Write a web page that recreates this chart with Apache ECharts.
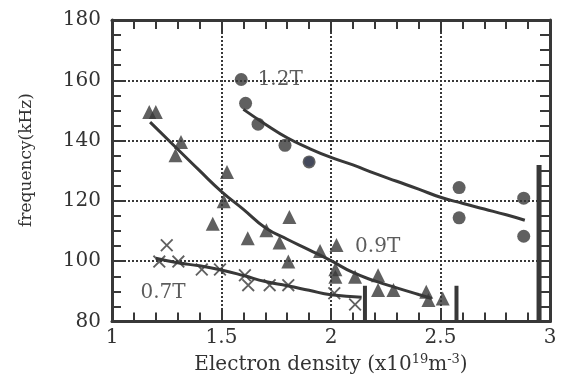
<!DOCTYPE html>
<html>
<head>
<meta charset="utf-8">
<script src="https://cdn.jsdelivr.net/npm/echarts@6/dist/echarts.min.js"></script>
<style>
  html, body { margin: 0; padding: 0; background: #fff; }
  .layer { width: 570px; height: 380px; position: absolute; left: 0; top: 0; }
</style>
</head>
<body>
<div id="frame" class="layer"></div>
<div id="marks" class="layer"></div>
<script>
// measured points, electron density (x10^19 m^-3) vs frequency (kHz)
const pts12T = [[1.59, 160.3], [1.61, 152.4], [1.667, 145.5], [1.79, 138.5], [1.90, 133], [2.585, 124.5], [2.585, 114.5], [2.88, 121], [2.88, 108.4]];
const pts09T = [[1.17, 149.5], [1.2, 149.5], [1.29, 135.2], [1.315, 139.6], [1.46, 112.5], [1.51, 120], [1.525, 129.7],
  [1.62, 107.7], [1.705, 110.4], [1.765, 106.3], [1.805, 100], [1.81, 114.8], [1.95, 103.5], [2.025, 105.5],
  [2.02, 97.5], [2.02, 95], [2.11, 95], [2.215, 95.5], [2.215, 90.6], [2.285, 90.6], [2.435, 90], [2.445, 87.3], [2.51, 87.8]];
const pts07T = [[1.216, 100], [1.25, 105.4], [1.303, 100], [1.41, 97.4], [1.493, 97.4], [1.607, 95.5], [1.622, 92.2],
  [1.72, 92.2], [1.805, 92.2], [2.015, 89.5], [2.11, 85.8]];

// fitted curves
const fit12T = [[1.6, 150.4], [1.7, 145.5], [1.8, 141], [1.9, 137.5], [2.0, 134.5], [2.1, 132], [2.2, 129.2], [2.3, 126.6],
  [2.4, 124], [2.5, 121.3], [2.6, 119.3], [2.7, 117.4], [2.8, 115.5], [2.885, 113.7]];
const fit09T = [[1.174, 146.2], [1.3, 137.2], [1.4, 130.1], [1.5, 123.2], [1.6, 117.3], [1.7, 111.2], [1.8, 107.4],
  [1.9, 103.9], [2.0, 100.3], [2.1, 96.4], [2.2, 93.6], [2.3, 91.3], [2.4, 89.1], [2.46, 87.8]];
const fit07T = [[1.2, 101.1], [1.3, 99.6], [1.4, 98.6], [1.5, 97.2], [1.6, 95.4], [1.7, 93.4], [1.8, 92], [1.9, 90.5],
  [2.0, 89], [2.14, 88.2]];

// vertical bars near the x axis
const barX = [2.155, 2.573, 2.95];
const barTop = [92, 92, 132];

// curve labels
const labelText = ['1.2T', '0.9T', '0.7T'];
const labelAt = [[1.665, 160.3], [2.11, 105], [1.13, 89.6]];

const ink = '#383838';
const font = '"DejaVu Serif", "Liberation Serif", serif';
const crossPath = 'path://M0,2 L2,0 L10,8 L18,0 L20,2 L12,10 L20,18 L18,20 L10,12 L2,20 L0,18 L8,10 Z';

function axisStyle(minorSplit, minorLen) {
  return {
    axisLine: { show: true, onZero: false, lineStyle: { color: ink, width: 3 } },
    axisTick: { show: true, inside: true, length: 12, lineStyle: { color: ink, width: 2 } },
    minorTick: { show: true, splitNumber: minorSplit, length: minorLen, lineStyle: { color: ink, width: 2 } },
  };
}
function gridLine() {
  return { show: true, lineStyle: { color: ink, type: 'dotted', width: 2 } };
}

// layer 1: frame, ticks and dotted grid (anchor point sits under a 1.2T circle)
const frame = echarts.init(document.getElementById('frame'));
frame.setOption({
  backgroundColor: '#fff',
  animation: false,
  grid: { left: 112, right: 20, top: 20, bottom: 58 },
  xAxis: [
    {
      type: 'value', min: 1, max: 3, interval: 0.5, position: 'bottom', ...axisStyle(5, 9),
      axisLabel: { color: '#333', fontFamily: font, fontSize: 20, margin: 6 }, splitLine: gridLine(),
      name: 'Electron density (x10{sup|19}m{sup|-3})', nameLocation: 'middle', nameGap: 32,
      nameTextStyle: { color: '#333', fontFamily: font, fontSize: 20, rich: { sup: { fontSize: 13, padding: [0, 0, 10, 0] } } },
    },
    {
      type: 'value', min: 1, max: 3, interval: 0.5, position: 'top', ...axisStyle(5, 9),
      axisLabel: { show: false }, splitLine: { show: false },
    },
  ],
  yAxis: [
    {
      type: 'value', min: 80, max: 180, interval: 20, position: 'left', ...axisStyle(4, 9),
      axisLabel: { color: '#333', fontFamily: font, fontSize: 20, margin: 11 }, splitLine: gridLine(),
    },
    {
      type: 'value', min: 80, max: 180, interval: 20, position: 'right', ...axisStyle(4, 10),
      axisLabel: { show: false }, splitLine: { show: false },
    },
  ],
  series: [{ type: 'scatter', data: [pts12T[4]] }],
});

// layer 2: same scales, all marks on a transparent canvas
const barSeries = barX.map((x, i) => ({
  type: 'line', data: [[x, 80], [x, barTop[i]]], showSymbol: false, silent: true,
  lineStyle: { color: ink, width: i === 2 ? 5 : 4 }, z: 3,
}));

const marks = echarts.init(document.getElementById('marks'));
marks.setOption({
  backgroundColor: 'transparent',
  animation: false,
  grid: { left: 112, right: 20, top: 20, bottom: 58 },
  xAxis: { type: 'value', min: 1, max: 3, show: false },
  yAxis: { type: 'value', min: 80, max: 180, show: false },
  graphic: [{
    type: 'text', x: 27, y: 160, rotation: Math.PI / 2,
    style: { text: 'frequency(kHz)', fill: '#333', font: '17px ' + font, textAlign: 'center', textVerticalAlign: 'middle' },
  }],
  series: [
    ...barSeries,
    { type: 'line', data: fit12T, smooth: true, showSymbol: false, lineStyle: { color: ink, width: 3 } },
    { type: 'line', data: fit09T, smooth: true, showSymbol: false, lineStyle: { color: ink, width: 3 } },
    { type: 'line', data: fit07T, smooth: true, showSymbol: false, lineStyle: { color: ink, width: 3 } },
    { type: 'scatter', data: pts12T, symbol: 'circle', symbolSize: 13, itemStyle: { color: ink }, z: 4 },
    { type: 'scatter', data: pts09T, symbol: 'triangle', symbolSize: 14, itemStyle: { color: ink }, z: 4 },
    { type: 'scatter', data: pts07T, symbol: crossPath, symbolSize: 13, itemStyle: { color: ink }, z: 4 },
    {
      type: 'scatter', symbolSize: 0, silent: true,
      data: labelAt.map((p, i) => ({ value: p, name: labelText[i] })),
      label: { show: true, position: 'right', distance: 0, formatter: '{b}', color: '#333', fontFamily: font, fontSize: 20 },
    },
  ],
});
</script>
</body>
</html>
